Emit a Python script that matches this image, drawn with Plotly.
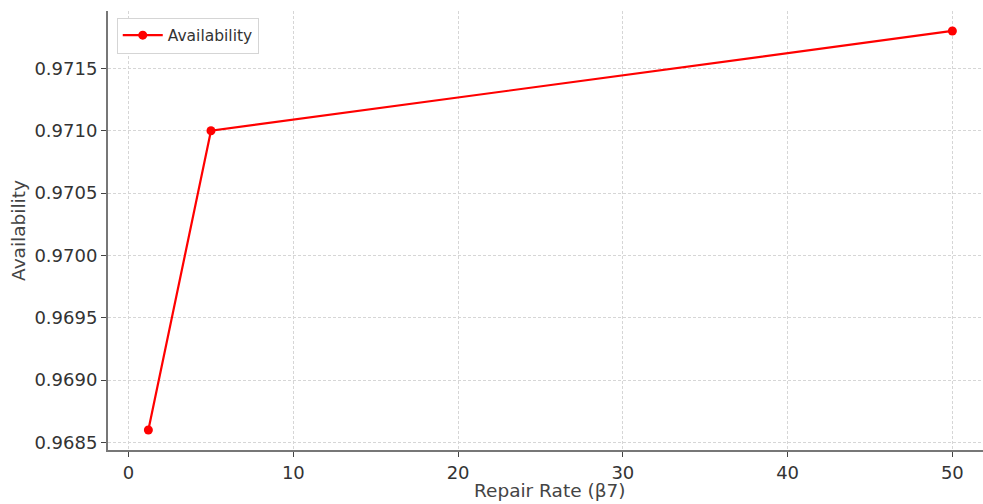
import plotly.graph_objects as go

repair_rate = [1.2, 5, 50]
availability = [0.9686, 0.9710, 0.9718]
y_ticks = [0.9685, 0.9690, 0.9695, 0.9700, 0.9705, 0.9710, 0.9715]
x_ticks = [0, 10, 20, 30, 40, 50]
x_title = "Repair Rate (β7)"
y_title = "Availability"

fig = go.Figure()
fig.add_trace(go.Scatter(
    x=repair_rate, y=availability, mode="lines+markers", name="Availability",
    line=dict(color="#ff0000", width=2.2),
    marker=dict(color="#ff0000", size=9),
))

font_family = "DejaVu Sans, sans-serif"
fig.update_layout(
    width=983, height=504,
    margin=dict(l=108, r=0, t=11, b=54, autoexpand=False),
    paper_bgcolor="white", plot_bgcolor="white",
    font=dict(family=font_family, color="#333333"),
    showlegend=True,
    legend=dict(
        x=0.01, y=0.985, xanchor="left", yanchor="top",
        bgcolor="white", bordercolor="#d5d5d5", borderwidth=1,
        itemwidth=40,
        font=dict(size=15.5, color="#333333"),
    ),
    xaxis=dict(
        range=[-1.25, 51.86], tickvals=x_ticks, automargin=False,
        showgrid=True, gridcolor="#d6d6d6", griddash="3px,2px", gridwidth=1,
        zeroline=False, showline=True, linecolor="#777777", linewidth=2,
        ticks="outside", ticklen=5, tickcolor="#444444",
        tickfont=dict(size=18, color="#333333"),
    ),
    yaxis=dict(
        range=[0.96844, 0.97196], tickvals=y_ticks, tickformat=".4f", automargin=False,
        showgrid=True, gridcolor="#d6d6d6", griddash="3px,2px", gridwidth=1,
        zeroline=False, showline=True, linecolor="#777777", linewidth=2,
        ticks="outside", ticklen=5, tickcolor="#444444",
        tickfont=dict(size=18, color="#333333"),
        title=dict(text=y_title, font=dict(size=18.5, color="#444444"), standoff=4),
    ),
)

fig.add_annotation(
    text=x_title, xref="paper", yref="paper", x=0.5046, y=0,
    xanchor="center", yanchor="middle", yshift=-40, showarrow=False,
    font=dict(size=18.5, color="#444444", family=font_family),
)

fig.write_html(
    "out.html",
    config={"displayModeBar": False},
    post_script="document.body.style.margin='0';document.body.style.overflow='hidden';",
)
